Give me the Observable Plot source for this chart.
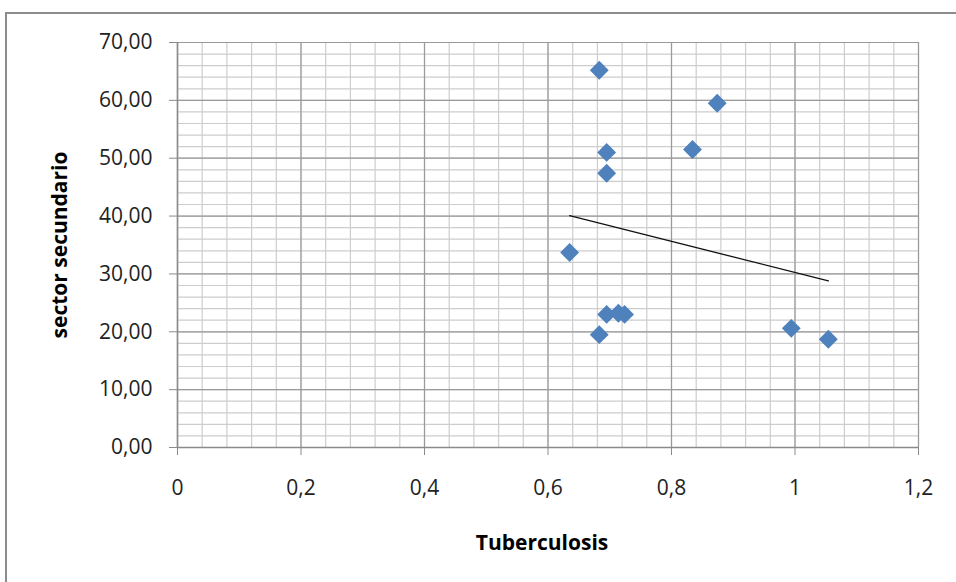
<!DOCTYPE html>
<html>
<head>
<meta charset="utf-8">
<script src="https://cdn.jsdelivr.net/npm/d3@7"></script>
<script src="https://cdn.jsdelivr.net/npm/@observablehq/plot@0.6"></script>
<style>
  body { margin: 0; background: #fff; overflow: hidden; }
  #chart { position: relative; width: 956px; height: 582px; }
  #chart svg { position: absolute; left: 0; top: 0; }
  #border { position: absolute; left: 5px; top: 12px; width: 1000px; height: 1000px;
            border: 2px solid #8c8c8c; box-sizing: border-box; }
</style>
</head>
<body>
<div id="chart"><div id="border"></div></div>
<script>
// Tuberculosis rate vs. share of the secondary sector
const tuberculosis     = [0.683, 0.874, 0.695, 0.695, 0.834, 0.635, 0.695, 0.714, 0.724, 0.683, 0.994, 1.054];
const sectorSecundario = [65.2, 59.5, 51.0, 47.4, 51.5, 33.7, 23.0, 23.2, 23.0, 19.5, 20.6, 18.7];

const xTicks = [0, 0.2, 0.4, 0.6, 0.8, 1, 1.2];
const yTicks = [0, 10, 20, 30, 40, 50, 60, 70];
const xMinor = d3.range(0, 31).map(i => +(i * 0.04).toFixed(2));
const yMinor = d3.range(0, 36).map(i => i * 2);

const data = tuberculosis.map((x, i) => ({x, y: sectorSecundario[i]}));
const comma = s => s.replace(".", ",");

const chart = Plot.plot({
  width: 956,
  height: 582,
  marginLeft: 177,
  marginRight: 38,
  marginTop: 42,
  marginBottom: 135,
  style: {fontFamily: "'Open Sans', sans-serif", fontSize: "21px", background: "transparent"},
  x: {domain: [0, 1.2]},
  y: {domain: [0, 70]},
  marks: [
    Plot.gridX(xMinor, {stroke: "#cdcdcd", strokeOpacity: 1, strokeWidth: 1.2}),
    Plot.gridY(yMinor, {stroke: "#cdcdcd", strokeOpacity: 1, strokeWidth: 1.2}),
    Plot.gridX(xTicks, {stroke: "#9a9a9a", strokeOpacity: 1, strokeWidth: 1.2}),
    Plot.gridY(yTicks, {stroke: "#9a9a9a", strokeOpacity: 1, strokeWidth: 1.2}),
    Plot.ruleX([0], {stroke: "#8a8a8a", strokeWidth: 1.5}),
    Plot.ruleY([0], {stroke: "#8a8a8a", strokeWidth: 1.5}),
    Plot.axisX(xTicks, {
      tickSize: 8, tickPadding: 25, stroke: "#8a8a8a", fill: "#222",
      tickFormat: d => comma(String(d)), label: null
    }),
    Plot.axisY(yTicks, {
      tickSize: 8, tickPadding: 17, stroke: "#8a8a8a", fill: "#222",
      tickFormat: d => comma(d3.format(".2f")(d)), label: null
    }),
    Plot.linearRegressionY(data, {x: "x", y: "y", ci: 0, stroke: "#111", strokeWidth: 1.3}),
    Plot.dot(data, {x: "x", y: "y", symbol: "diamond2", r: 8.5, fill: "#4F81BD", stroke: "none"}),
    Plot.text(["Tuberculosis"], {
      text: d => d, frameAnchor: "bottom", textAnchor: "middle", dy: 102, dx: -6,
      fontWeight: "bold", fontSize: 21, fill: "#000"
    }),
    Plot.text(["sector secundario"], {
      text: d => d, frameAnchor: "left", textAnchor: "middle", lineAnchor: "middle",
      dx: -117, rotate: -90,
      fontWeight: "bold", fontSize: 21, fill: "#000"
    })
  ]
});

document.getElementById("chart").appendChild(chart);
</script>
</body>
</html>
